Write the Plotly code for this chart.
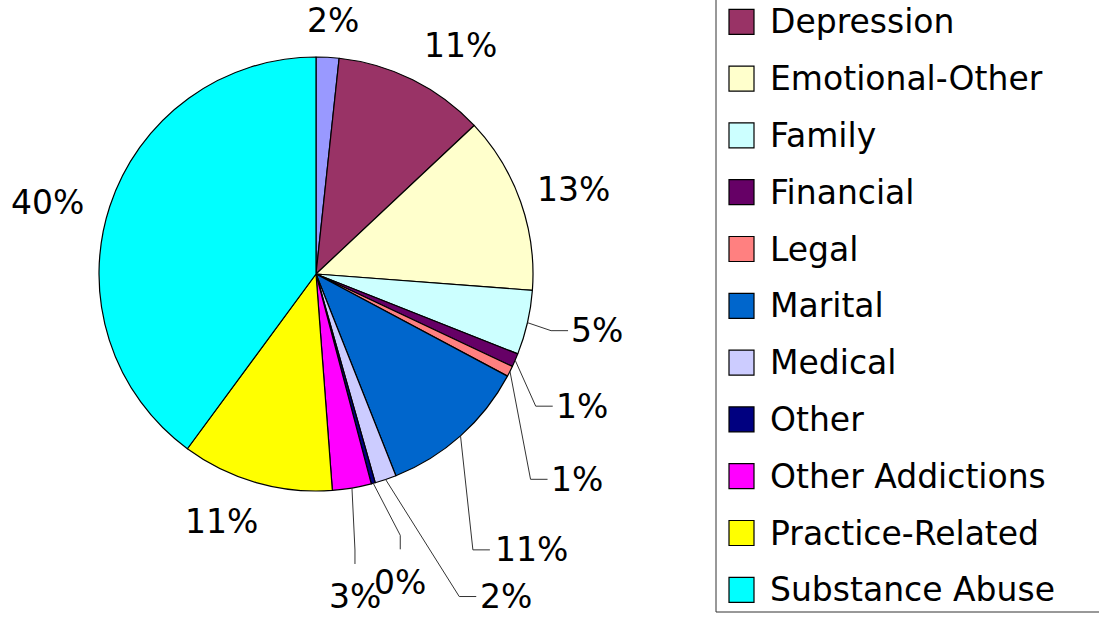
import math
import plotly.graph_objects as go

# ---- data ----
categories = ["Anxiety", "Depression", "Emotional-Other", "Family", "Financial", "Legal",
              "Marital", "Medical", "Other", "Other Addictions", "Practice-Related",
              "Substance Abuse"]
shares = [1.7, 11.3, 13.2, 4.8, 1.0, 0.8, 11.2, 1.6, 0.3, 2.9, 11.3, 39.9]
colors = ["#9999FF", "#993366", "#FFFFCC", "#CCFFFF", "#660066", "#FF8080",
          "#0066CC", "#CCCCFF", "#000080", "#FF00FF", "#FFFF00", "#00FFFF"]

# ---- layout / style ----
W, H = 1099, 617
CX, CY, R = 316, 274, 217
FONT = "DejaVu Sans"
FS = 33
# label offsets (pixels) from slice edge
label_offsets = [(5, -37), (48, -34), (53, -12), (70, 8), (67, 46), (67, 108),
                 (71, 114), (120, 117), (27, 99), (3, 109), (-35, 39), (-62, -4)]
# leader style: None, 'h' (horizontal tail into label) or 'v' (vertical tail into label)
leaders = [None, None, None, "h", "h", "h", "h", "h", "v", "v", None, None]

fig = go.Figure(go.Pie(
    labels=categories, values=shares, sort=False, direction="clockwise", rotation=0,
    marker=dict(colors=colors, line=dict(color="black", width=1.2)),
    textinfo="none", hoverinfo="label+percent", showlegend=False,
    domain=dict(x=[(CX - R) / W, (CX + R) / W], y=[1 - (CY + R) / H, 1 - (CY - R) / H]),
))


def px2paper(x, y):
    return x / W, 1 - y / H


total = sum(shares)
annotations = []
shapes = []
cum = 0.0
for i, v in enumerate(shares):
    mid = (cum + v / 2) / total * 2 * math.pi
    cum += v
    tx = CX + R * math.sin(mid)
    ty = CY - R * math.cos(mid)
    ax, ay = label_offsets[i]
    lx, ly = tx + ax, ty + ay
    txt = f"{round(v / total * 100)}%"
    xp, yp = px2paper(lx, ly)
    annotations.append(dict(
        x=xp, y=yp, xref="paper", yref="paper", text=txt, showarrow=False,
        xanchor="center", yanchor="middle",
        font=dict(family=FONT, size=FS, color="black"),
    ))
    if leaders[i]:
        hw = len(txt) * 0.74 * FS / 2
        if leaders[i] == "h":
            ex, ey = lx - hw - 5, ly
            bx, by = ex - 17, ly
        else:
            ex, ey = lx, ly - 33
            bx, by = lx, ly - 47
        pts = [px2paper(tx, ty), px2paper(bx, by), px2paper(ex, ey)]
        path = "M {} {} L {} {} L {} {}".format(*[c for p in pts for c in p])
        shapes.append(dict(type="path", xref="paper", yref="paper", path=path,
                           line=dict(color="#333333", width=1)))

# manual legend; the box is cropped at the top so its first entry (Anxiety) lies out of view
LEG_X0, LEG_Y_FIRST, LEG_STEP = 716, -35, 56.8
shapes.append(dict(type="rect", xref="paper", yref="paper",
                   x0=LEG_X0 / W, x1=1110 / W, y0=1 - 612 / H, y1=1 - (-80) / H,
                   line=dict(color="#333333", width=1), fillcolor="white", layer="below"))
for i, (cat, col) in enumerate(zip(categories, colors)):
    yc = LEG_Y_FIRST + i * LEG_STEP
    if yc < 0:
        continue  # entry lies above the visible area
    shapes.append(dict(type="rect", xref="paper", yref="paper",
                       x0=729 / W, x1=754 / W, y0=1 - (yc + 12.5) / H, y1=1 - (yc - 12.5) / H,
                       line=dict(color="black", width=1.2), fillcolor=col))
    annotations.append(dict(x=768 / W, y=1 - yc / H, xref="paper", yref="paper",
                            text=cat, showarrow=False, xanchor="left", yanchor="middle",
                            font=dict(family=FONT, size=FS, color="black")))

fig.update_layout(
    width=W, height=H, margin=dict(l=0, r=0, t=0, b=0),
    paper_bgcolor="white", plot_bgcolor="white",
    annotations=annotations, shapes=shapes,
)
fig.write_html("out.html", config={"displayModeBar": False},
               post_script="document.body.style.margin='0';document.body.style.overflow='hidden';")
